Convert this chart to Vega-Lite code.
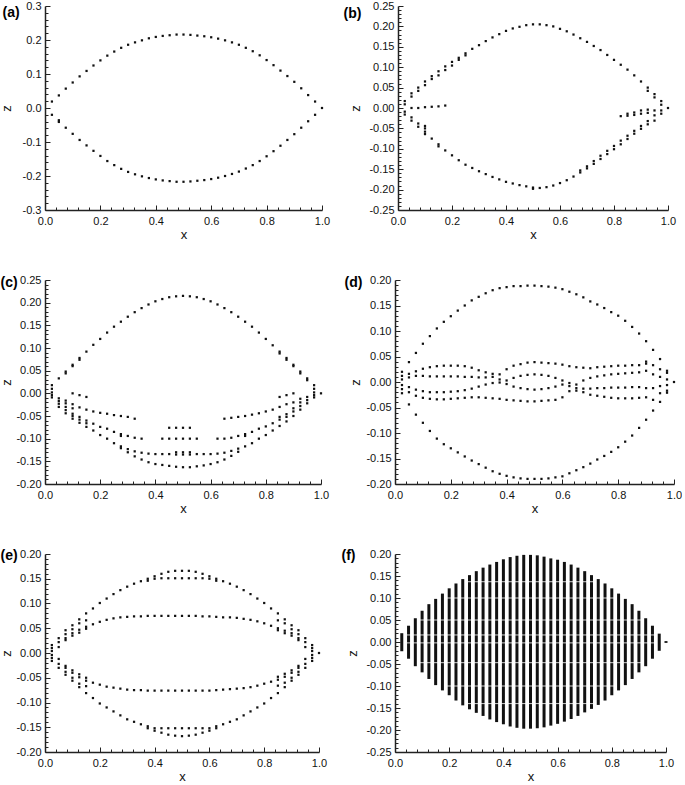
{
 "$schema": "https://vega.github.io/schema/vega-lite/v6.json",
 "padding": {"left": 0, "top": 0, "right": 0, "bottom": 0},
 "background": "white",
 "config": {
  "view": {"stroke": null},
  "font": "Liberation Sans",
  "axis": {"grid": false, "domainColor": "#222", "domainWidth": 1.5, "tickColor": "#222", "tickWidth": 1, "labelFont": "Liberation Sans", "labelFontSize": 11, "labelColor": "#111", "titleFont": "Liberation Sans", "titleFontSize": 13, "titleFontWeight": "normal", "titleColor": "#111"},
  "square": {"size": 5, "color": "#111", "opacity": 1}
 },
 "datasets": {
  "a": [
   {"x":0.025,"u":0.019,"l":-0.020},{"x":0.05,"u":0.037,"l":-0.036,"l2":-0.041},{"x":0.075,"u":0.057,"l":-0.058},{"x":0.1,"u":0.075,"l":-0.076},
   {"x":0.125,"u":0.093,"l":-0.094},{"x":0.15,"u":0.109,"l":-0.110},{"x":0.175,"u":0.125,"l":-0.126},{"x":0.2,"u":0.140,"l":-0.141},
   {"x":0.225,"u":0.154,"l":-0.156},{"x":0.25,"u":0.166,"l":-0.168},{"x":0.275,"u":0.177,"l":-0.179},{"x":0.3,"u":0.186,"l":-0.188},
   {"x":0.325,"u":0.193,"l":-0.195},{"x":0.35,"u":0.199,"l":-0.201},{"x":0.375,"u":0.205,"l":-0.206},{"x":0.4,"u":0.209,"l":-0.210},
   {"x":0.425,"u":0.212,"l":-0.213},{"x":0.45,"u":0.214,"l":-0.215},{"x":0.475,"u":0.216,"l":-0.217},{"x":0.5,"u":0.216,"l":-0.217},
   {"x":0.525,"u":0.215,"l":-0.216},{"x":0.55,"u":0.213,"l":-0.214},{"x":0.575,"u":0.211,"l":-0.212},{"x":0.6,"u":0.208,"l":-0.209},
   {"x":0.625,"u":0.204,"l":-0.205},{"x":0.65,"u":0.199,"l":-0.200},{"x":0.675,"u":0.193,"l":-0.194},{"x":0.7,"u":0.186,"l":-0.187},
   {"x":0.725,"u":0.177,"l":-0.178},{"x":0.75,"u":0.167,"l":-0.168},{"x":0.775,"u":0.155,"l":-0.156},{"x":0.8,"u":0.141,"l":-0.142},
   {"x":0.825,"u":0.126,"l":-0.127},{"x":0.85,"u":0.110,"l":-0.111},{"x":0.875,"u":0.094,"l":-0.094},{"x":0.9,"u":0.077,"l":-0.077},
   {"x":0.925,"u":0.058,"l":-0.058},{"x":0.95,"u":0.038,"l":-0.039},{"x":0.975,"u":0.019,"l":-0.020},{"x":1.0,"u":0.0}
  ],
  "b": [
   {"x":0.025,"u":0.017,"u2":0.009,"l":-0.009,"l2":-0.016},
   {"x":0.05,"u":0.036,"u2":0.028,"l":-0.023,"l2":-0.031,"m":0.0},
   {"x":0.075,"u":0.050,"u2":0.042,"l":-0.038,"l2":-0.046,"m":0.0},
   {"x":0.1,"u":0.065,"u2":0.056,"l":-0.044,"l2":-0.050,"l3":-0.058,"l4":-0.064,"m":0.002},
   {"x":0.125,"u":0.078,"u2":0.071,"l":-0.075,"m":0.003},
   {"x":0.15,"u":0.090,"u2":0.080,"l":-0.089,"l2":-0.094,"m":0.004},
   {"x":0.175,"u":0.102,"u2":0.093,"l":-0.104,"m":0.006},
   {"x":0.2,"u":0.113,"u2":0.104,"l":-0.116},
   {"x":0.225,"u":0.123,"u2":0.118,"l":-0.128},
   {"x":0.25,"u":0.134,"u2":0.129,"l":-0.139},
   {"x":0.275,"u":0.145,"l":-0.147},{"x":0.3,"u":0.154,"l":-0.155},{"x":0.325,"u":0.164,"l":-0.162},{"x":0.35,"u":0.173,"l":-0.169},
   {"x":0.375,"u":0.181,"l":-0.175},{"x":0.4,"u":0.189,"l":-0.181},{"x":0.425,"u":0.195,"l":-0.185},{"x":0.45,"u":0.199,"l":-0.189},
   {"x":0.475,"u":0.203,"l":-0.192},{"x":0.5,"u":0.205,"l":-0.195,"l2":-0.198},{"x":0.525,"u":0.205,"l":-0.196},{"x":0.55,"u":0.203,"l":-0.194},
   {"x":0.575,"u":0.200,"l":-0.190},{"x":0.6,"u":0.194,"l":-0.184},{"x":0.625,"u":0.188,"l":-0.177},{"x":0.65,"u":0.180,"l":-0.168},
   {"x":0.675,"u":0.171,"l":-0.158,"l2":-0.153},{"x":0.7,"u":0.162,"l":-0.148,"l2":-0.143},{"x":0.725,"u":0.152,"l":-0.137,"l2":-0.130},
   {"x":0.75,"u":0.142,"l":-0.125,"l2":-0.117},{"x":0.775,"u":0.130,"l":-0.113,"l2":-0.105},{"x":0.8,"u":0.118,"l":-0.101,"l2":-0.093},
   {"x":0.825,"u":0.106,"l":-0.089,"l2":-0.080,"m":-0.020},
   {"x":0.85,"u":0.094,"l":-0.076,"l2":-0.068,"m":-0.019,"m2":-0.014},
   {"x":0.875,"u":0.080,"l":-0.063,"l2":-0.056,"m":-0.017,"m2":-0.011},
   {"x":0.9,"u":0.065,"l":-0.051,"l2":-0.044,"m":-0.014,"m2":-0.006},
   {"x":0.925,"u":0.050,"u2":0.042,"l":-0.040,"l2":-0.032,"m":-0.012,"m2":-0.004},
   {"x":0.95,"u":0.034,"u2":0.026,"l":-0.031,"l2":-0.018,"m":-0.006},
   {"x":0.975,"u":0.017,"u2":0.008,"l":-0.014,"l2":-0.006},
   {"x":1.0,"u":0.0}
  ],
  "c": [
   {"x":0.025,"u":0.018,"u2":0.010,"p1":0.002,"p2":-0.004,"p3":-0.009},
   {"x":0.05,"u":0.033,"p1":-0.011,"p2":-0.017,"p3":-0.023,"p4":-0.030},
   {"x":0.075,"u":0.048,"u2":0.044,"p1":-0.016,"p2":-0.022,"p3":-0.030,"p4":-0.037,"p5":-0.044},
   {"x":0.1,"u":0.063,"u2":0.060,"p1":0.0,"p2":-0.024,"p3":-0.033,"p4":-0.045,"p5":-0.050,"p6":-0.056},
   {"x":0.125,"u":0.078,"u2":0.074,"p1":-0.004,"p2":-0.031,"p3":-0.052,"p4":-0.058,"p5":-0.065},
   {"x":0.15,"u":0.092,"p1":-0.008,"p2":-0.036,"p3":-0.060,"p4":-0.066,"p5":-0.074},
   {"x":0.175,"u":0.107,"p2":-0.040,"p3":-0.067,"p5":-0.082},
   {"x":0.2,"u":0.120,"p2":-0.043,"p3":-0.074,"p5":-0.092},
   {"x":0.225,"u":0.134,"p2":-0.045,"p3":-0.078,"p5":-0.100},
   {"x":0.25,"u":0.147,"p2":-0.048,"p3":-0.085,"p5":-0.110},
   {"x":0.275,"u":0.158,"p2":-0.050,"p3":-0.090,"p4":-0.094,"p5":-0.117,"p6":-0.121},
   {"x":0.3,"u":0.169,"p2":-0.052,"p3":-0.094,"p5":-0.123,"p6":-0.130},
   {"x":0.325,"u":0.179,"p2":-0.056,"p3":-0.098,"p5":-0.128,"p6":-0.139},
   {"x":0.35,"u":0.188,"p3":-0.100,"p5":-0.131,"p6":-0.146},
   {"x":0.375,"u":0.196,"p5":-0.133,"p6":-0.152},
   {"x":0.4,"u":0.203,"p5":-0.134,"p6":-0.156},
   {"x":0.425,"u":0.208,"p3":-0.100,"p5":-0.134,"p6":-0.158},
   {"x":0.45,"u":0.212,"p2":-0.076,"p3":-0.100,"p5":-0.134,"p6":-0.160},
   {"x":0.475,"u":0.214,"p2":-0.076,"p3":-0.100,"p4":-0.130,"p5":-0.135,"p6":-0.162},
   {"x":0.5,"u":0.215,"p2":-0.076,"p3":-0.100,"p4":-0.130,"p5":-0.135,"p6":-0.163},
   {"x":0.525,"u":0.214,"p2":-0.076,"p3":-0.100,"p4":-0.130,"p5":-0.135,"p6":-0.163},
   {"x":0.55,"u":0.212,"p3":-0.100,"p5":-0.134,"p6":-0.161},
   {"x":0.575,"u":0.208,"p5":-0.134,"p6":-0.159},
   {"x":0.6,"u":0.203,"p5":-0.134,"p6":-0.156},
   {"x":0.625,"u":0.196,"p3":-0.100,"p5":-0.133,"p6":-0.152},
   {"x":0.65,"u":0.188,"p2":-0.056,"p3":-0.100,"p5":-0.131,"p6":-0.146},
   {"x":0.675,"u":0.179,"p2":-0.054,"p3":-0.098,"p5":-0.127,"p6":-0.138},
   {"x":0.7,"u":0.169,"p2":-0.052,"p3":-0.094,"p5":-0.122,"p6":-0.129},
   {"x":0.725,"u":0.158,"p2":-0.050,"p3":-0.090,"p4":-0.094,"p5":-0.117},
   {"x":0.75,"u":0.147,"p2":-0.047,"p3":-0.085,"p5":-0.110},
   {"x":0.775,"u":0.134,"p2":-0.044,"p3":-0.078,"p5":-0.100},
   {"x":0.8,"u":0.120,"p2":-0.040,"p3":-0.073,"p5":-0.092},
   {"x":0.825,"u":0.106,"p2":-0.036,"p3":-0.066,"p5":-0.082},
   {"x":0.85,"u":0.092,"u2":0.088,"p1":-0.008,"p2":-0.030,"p3":-0.052,"p4":-0.058,"p5":-0.072},
   {"x":0.875,"u":0.078,"u2":0.074,"p1":-0.004,"p2":-0.024,"p3":-0.046,"p4":-0.052,"p5":-0.062},
   {"x":0.9,"u":0.063,"u2":0.060,"p1":0.0,"p2":-0.020,"p3":-0.033,"p4":-0.040,"p5":-0.050},
   {"x":0.925,"u":0.048,"u2":0.044,"p1":-0.012,"p2":-0.020,"p3":-0.028,"p4":-0.036},
   {"x":0.95,"u":0.033,"u2":0.029,"p1":-0.008,"p2":-0.015,"p3":-0.022},
   {"x":0.975,"u":0.018,"u2":0.010,"p1":0.002,"p2":-0.004,"p3":-0.009},
   {"x":1.0,"u":0.0}
  ],
  "d": [
   {"x":0.025,"U":0.020,"L":-0.022,"d1":0.012,"d2":0.005,"d3":-0.006,"d4":-0.014},
   {"x":0.05,"U":0.039,"L":-0.044,"d1":0.016,"d2":0.009,"d3":-0.010,"d4":-0.020},
   {"x":0.075,"U":0.057,"L":-0.064,"d1":0.021,"d2":0.012,"d3":-0.015,"d4":-0.027},
   {"x":0.1,"U":0.075,"L":-0.080,"d1":0.026,"d2":0.012,"d3":-0.018,"d4":-0.031},
   {"x":0.125,"U":0.090,"L":-0.096,"d1":0.029,"d2":0.011,"d3":-0.020,"d4":-0.033},
   {"x":0.15,"U":0.105,"L":-0.111,"d1":0.031,"d2":0.011,"d3":-0.020,"d4":-0.034},
   {"x":0.175,"U":0.118,"L":-0.122,"d1":0.032,"d2":0.011,"d3":-0.020,"d4":-0.034},
   {"x":0.2,"U":0.129,"L":-0.130,"d1":0.032,"d2":0.011,"d3":-0.019,"d4":-0.033},
   {"x":0.225,"U":0.140,"L":-0.138,"d1":0.032,"d2":0.011,"d3":-0.018,"d4":-0.032},
   {"x":0.25,"U":0.150,"L":-0.146,"d1":0.031,"d2":0.010,"d3":-0.016,"d4":-0.031},
   {"x":0.275,"U":0.160,"L":-0.154,"d1":0.028,"d2":0.010,"d3":-0.013,"d4":-0.030},
   {"x":0.3,"U":0.167,"L":-0.161,"d1":0.023,"d2":0.009,"d3":-0.009,"d4":-0.030},
   {"x":0.325,"U":0.174,"L":-0.168,"d1":0.019,"d2":0.009,"d3":-0.005,"d4":-0.031},
   {"x":0.35,"U":0.180,"L":-0.175,"d1":0.016,"d2":0.010,"d3":-0.002,"d4":-0.032},
   {"x":0.375,"U":0.184,"L":-0.180,"d1":0.015,"d2":0.005,"d3":-0.001,"d4":-0.033},
   {"x":0.4,"U":0.186,"L":-0.184,"d1":0.025,"d2":0.003,"d3":-0.004,"d4":-0.035},
   {"x":0.425,"U":0.188,"L":-0.187,"d1":0.032,"d2":0.008,"d3":-0.009,"d4":-0.036},
   {"x":0.45,"U":0.188,"L":-0.189,"d1":0.035,"d2":0.012,"d3":-0.012,"d4":-0.037},
   {"x":0.475,"U":0.189,"L":-0.190,"d1":0.038,"d2":0.014,"d3":-0.014,"d4":-0.038},
   {"x":0.5,"U":0.189,"L":-0.190,"d1":0.039,"d2":0.015,"d3":-0.015,"d4":-0.038},
   {"x":0.525,"U":0.188,"L":-0.190,"d1":0.038,"d2":0.014,"d3":-0.014,"d4":-0.037},
   {"x":0.55,"U":0.187,"L":-0.189,"d1":0.037,"d2":0.012,"d3":-0.012,"d4":-0.036},
   {"x":0.575,"U":0.185,"L":-0.187,"d1":0.036,"d2":0.008,"d3":-0.009,"d4":-0.035},
   {"x":0.6,"U":0.182,"L":-0.185,"d1":0.034,"d2":0.003,"d3":-0.005,"d4":-0.030},
   {"x":0.625,"U":0.177,"L":-0.179,"d1":0.031,"d2":-0.002,"d3":-0.008,"d4":-0.018},
   {"x":0.65,"U":0.172,"L":-0.173,"d1":0.029,"d2":-0.005,"d3":-0.012,"d4":-0.017},
   {"x":0.675,"U":0.166,"L":-0.167,"d1":0.028,"d2":0.003,"d3":-0.013,"d4":-0.020},
   {"x":0.7,"U":0.158,"L":-0.160,"d1":0.027,"d2":0.008,"d3":-0.013,"d4":-0.025},
   {"x":0.725,"U":0.152,"L":-0.152,"d1":0.029,"d2":0.011,"d3":-0.012,"d4":-0.027},
   {"x":0.75,"U":0.145,"L":-0.145,"d1":0.030,"d2":0.013,"d3":-0.012,"d4":-0.029},
   {"x":0.775,"U":0.137,"L":-0.137,"d1":0.031,"d2":0.015,"d3":-0.011,"d4":-0.031},
   {"x":0.8,"U":0.130,"L":-0.128,"d1":0.032,"d2":0.016,"d3":-0.011,"d4":-0.032},
   {"x":0.825,"U":0.120,"L":-0.117,"d1":0.032,"d2":0.017,"d3":-0.011,"d4":-0.032},
   {"x":0.85,"U":0.108,"L":-0.105,"d1":0.033,"d2":0.018,"d3":-0.010,"d4":-0.032},
   {"x":0.875,"U":0.095,"L":-0.090,"d1":0.033,"d2":0.019,"d3":-0.010,"d4":-0.031},
   {"x":0.9,"U":0.080,"L":-0.074,"d1":0.036,"d2":0.022,"d3":-0.012,"d4":-0.030,"d5":0.040},
   {"x":0.925,"U":0.063,"L":-0.056,"d1":0.033,"d2":0.015,"d3":-0.012,"d4":-0.035},
   {"x":0.95,"U":0.045,"L":-0.039,"d1":0.025,"d2":0.010,"d3":-0.008,"d4":-0.022},
   {"x":0.975,"U":0.022,"L":-0.021,"d1":0.018,"d2":0.005,"d3":-0.006,"d4":-0.017},
   {"x":1.0,"U":0.0}
  ],
  "e": [
   {"x":0.025,"a":0.016,"b":0.010,"c":0.004,"A":-0.004,"B":-0.010,"C":-0.016},
   {"x":0.05,"a":0.030,"b":0.022,"c":0.012,"A":-0.012,"B":-0.022,"C":-0.030},
   {"x":0.075,"a":0.046,"b":0.038,"c":0.030,"d":0.026,"A":-0.026,"B":-0.030,"C":-0.038,"D":-0.044},
   {"x":0.1,"a":0.056,"b":0.048,"c":0.040,"d":0.035,"A":-0.035,"B":-0.040,"C":-0.050,"D":-0.056},
   {"x":0.125,"a":0.068,"b":0.060,"c":0.047,"d":0.041,"A":-0.043,"B":-0.049,"C":-0.062,"D":-0.069},
   {"x":0.15,"a":0.080,"b":0.066,"c":0.053,"d":0.049,"A":-0.050,"B":-0.056,"C":-0.067,"D":-0.081},
   {"x":0.175,"a":0.090,"c":0.058,"A":-0.060,"D":-0.091},
   {"x":0.2,"a":0.101,"c":0.063,"A":-0.064,"D":-0.102},
   {"x":0.225,"a":0.110,"c":0.067,"A":-0.068,"D":-0.110},
   {"x":0.25,"a":0.119,"c":0.070,"A":-0.070,"D":-0.118},
   {"x":0.275,"a":0.127,"c":0.072,"A":-0.072,"D":-0.126},
   {"x":0.3,"a":0.134,"c":0.073,"A":-0.074,"D":-0.134},
   {"x":0.325,"a":0.140,"c":0.074,"A":-0.075,"D":-0.139},
   {"x":0.35,"a":0.145,"c":0.074,"A":-0.075,"D":-0.144},
   {"x":0.375,"a":0.150,"b":0.146,"c":0.075,"A":-0.076,"B":-0.148,"D":-0.152},
   {"x":0.4,"a":0.155,"b":0.150,"c":0.075,"A":-0.076,"B":-0.152,"D":-0.157},
   {"x":0.425,"a":0.160,"b":0.151,"c":0.075,"A":-0.076,"B":-0.152,"D":-0.161},
   {"x":0.45,"a":0.164,"b":0.151,"c":0.075,"A":-0.076,"B":-0.152,"D":-0.165},
   {"x":0.475,"a":0.166,"b":0.151,"c":0.075,"A":-0.076,"B":-0.152,"D":-0.167},
   {"x":0.5,"a":0.166,"b":0.151,"c":0.075,"A":-0.076,"B":-0.152,"D":-0.168},
   {"x":0.525,"a":0.166,"b":0.151,"c":0.075,"A":-0.076,"B":-0.152,"D":-0.167},
   {"x":0.55,"a":0.164,"b":0.151,"c":0.075,"A":-0.076,"B":-0.152,"D":-0.165},
   {"x":0.575,"a":0.160,"b":0.151,"c":0.074,"A":-0.076,"B":-0.152,"D":-0.161},
   {"x":0.6,"a":0.155,"b":0.150,"c":0.074,"A":-0.076,"B":-0.152,"D":-0.157},
   {"x":0.625,"a":0.150,"b":0.146,"c":0.073,"A":-0.075,"B":-0.148,"D":-0.152},
   {"x":0.65,"a":0.145,"c":0.072,"A":-0.074,"D":-0.144},
   {"x":0.675,"a":0.140,"c":0.072,"A":-0.073,"D":-0.139},
   {"x":0.7,"a":0.134,"c":0.071,"A":-0.072,"D":-0.134},
   {"x":0.725,"a":0.127,"c":0.069,"A":-0.071,"D":-0.126},
   {"x":0.75,"a":0.119,"c":0.067,"A":-0.069,"D":-0.118},
   {"x":0.775,"a":0.110,"c":0.064,"A":-0.066,"D":-0.110},
   {"x":0.8,"a":0.101,"c":0.060,"A":-0.062,"D":-0.102},
   {"x":0.825,"a":0.090,"c":0.055,"A":-0.058,"D":-0.091},
   {"x":0.85,"a":0.080,"b":0.066,"c":0.050,"d":0.046,"A":-0.048,"B":-0.054,"C":-0.066,"D":-0.081},
   {"x":0.875,"a":0.068,"b":0.060,"c":0.045,"d":0.040,"A":-0.042,"B":-0.048,"C":-0.060,"D":-0.069},
   {"x":0.9,"a":0.056,"b":0.048,"c":0.040,"d":0.035,"A":-0.035,"B":-0.040,"C":-0.050,"D":-0.056},
   {"x":0.925,"a":0.046,"b":0.038,"c":0.030,"d":0.026,"A":-0.026,"B":-0.030,"C":-0.038,"D":-0.044},
   {"x":0.95,"a":0.030,"b":0.022,"c":0.012,"A":-0.012,"B":-0.022,"C":-0.030},
   {"x":0.975,"a":0.016,"b":0.010,"c":0.004,"A":-0.004,"B":-0.010,"C":-0.016},
   {"x":1.0,"a":0.0}
  ],
  "f": [
   {"x":0.025,"lo":-0.021,"hi":0.020},{"x":0.05,"lo":-0.038,"hi":0.037},{"x":0.075,"lo":-0.055,"hi":0.054},{"x":0.1,"lo":-0.069,"hi":0.071},
   {"x":0.125,"lo":-0.084,"hi":0.086},{"x":0.15,"lo":-0.098,"hi":0.098},{"x":0.175,"lo":-0.110,"hi":0.110},{"x":0.2,"lo":-0.121,"hi":0.122},
   {"x":0.225,"lo":-0.133,"hi":0.133},{"x":0.25,"lo":-0.144,"hi":0.143},{"x":0.275,"lo":-0.153,"hi":0.152},{"x":0.3,"lo":-0.161,"hi":0.161},
   {"x":0.325,"lo":-0.168,"hi":0.169},{"x":0.35,"lo":-0.176,"hi":0.176},{"x":0.375,"lo":-0.182,"hi":0.182},{"x":0.4,"lo":-0.187,"hi":0.188},
   {"x":0.425,"lo":-0.192,"hi":0.193},{"x":0.45,"lo":-0.195,"hi":0.196},{"x":0.475,"lo":-0.197,"hi":0.198},{"x":0.5,"lo":-0.197,"hi":0.198},
   {"x":0.525,"lo":-0.196,"hi":0.197},{"x":0.55,"lo":-0.194,"hi":0.194},{"x":0.575,"lo":-0.190,"hi":0.190},{"x":0.6,"lo":-0.186,"hi":0.187},
   {"x":0.625,"lo":-0.181,"hi":0.182},{"x":0.65,"lo":-0.175,"hi":0.176},{"x":0.675,"lo":-0.168,"hi":0.169},{"x":0.7,"lo":-0.160,"hi":0.161},
   {"x":0.725,"lo":-0.152,"hi":0.152},{"x":0.75,"lo":-0.143,"hi":0.143},{"x":0.775,"lo":-0.133,"hi":0.133},{"x":0.8,"lo":-0.121,"hi":0.122},
   {"x":0.825,"lo":-0.110,"hi":0.110},{"x":0.85,"lo":-0.098,"hi":0.098},{"x":0.875,"lo":-0.084,"hi":0.086},{"x":0.9,"lo":-0.069,"hi":0.071},
   {"x":0.925,"lo":-0.055,"hi":0.054},{"x":0.95,"lo":-0.038,"hi":0.037},{"x":0.975,"lo":-0.020,"hi":0.019},{"x":1.0,"lo":-0.002,"hi":0.002}
  ],
  "fs": [
   {"z":0.137,"x1":0.26,"x2":0.74},{"z":0.100,"x1":0.19,"x2":0.81},{"z":0.050,"x1":0.09,"x2":0.91},{"z":0.016,"x1":0.04,"x2":0.96},
   {"z":-0.002,"x1":0.04,"x2":0.96},{"z":-0.047,"x1":0.09,"x2":0.91},{"z":-0.100,"x1":0.19,"x2":0.81},{"z":-0.140,"x1":0.26,"x2":0.74}
  ]
 },
 "spacing": 33,
 "vconcat": [
  {"spacing": 13, "hconcat": [
   {"width": 277, "height": 204, "data": {"name": "a"},
    "transform": [{"fold": ["u","l","l2"], "as": ["s","z"]}, {"filter": "isValid(datum.z)"}],
    "layer": [
     {"mark": {"type": "square"}, "encoding": {
       "x": {"field": "x", "type": "quantitative", "scale": {"domain": [0,1], "nice": false}, "axis": {"title": "x", "values": [0,0.2,0.4,0.6,0.8,1], "labelExpr": "format(datum.value, '.1f')", "tickSize": -5, "labelPadding": 10, "titlePadding": 2, "labelFlush": false, "labelOverlap": false}},
       "y": {"field": "z", "type": "quantitative", "scale": {"domain": [-0.3,0.3], "nice": false, "zero": false}, "axis": {"title": "z", "values": [-0.3,-0.2,-0.1,0,0.1,0.2,0.3], "labelExpr": "replace(format(datum.value, '.1f'), '\u2212', '-')", "tickSize": -5, "labelPadding": 9, "titlePadding": 2, "minExtent": 30, "maxExtent": 30, "labelOverlap": false}}}},
     {"mark": {"type": "square", "opacity": 0}, "encoding": {
       "x": {"field": "x", "type": "quantitative", "axis": {"orient": "bottom", "title": null, "labels": false, "domain": false, "tickSize": -3, "values": [0.04,0.08,0.12,0.16,0.24,0.28,0.32,0.36,0.44,0.48,0.52,0.56,0.64,0.68,0.72,0.76,0.84,0.88,0.92,0.96]}},
       "y": {"field": "z", "type": "quantitative", "axis": {"orient": "left", "title": "(a)", "titleAngle": 0, "titleX": -43, "titleY": 10, "titleAlign": "left", "titleBaseline": "alphabetic", "titleFontWeight": "bold", "titleFontSize": 14, "titleColor": "#000", "labels": false, "domain": false, "tickSize": -3, "values": [-0.28,-0.26,-0.24,-0.22,-0.18,-0.16,-0.14,-0.12,-0.08,-0.06,-0.04,-0.02,0.02,0.04,0.06,0.08,0.12,0.14,0.16,0.18,0.22,0.24,0.26,0.28]}}}}
    ],
    "resolve": {"axis": {"x": "independent", "y": "independent"}}
   },
   {"width": 270, "height": 204, "data": {"name": "b"},
    "transform": [{"fold": ["u","u2","l","l2","l3","l4","m","m2"], "as": ["s","z"]}, {"filter": "isValid(datum.z)"}],
    "layer": [
     {"mark": {"type": "square"}, "encoding": {
       "x": {"field": "x", "type": "quantitative", "scale": {"domain": [0,1], "nice": false}, "axis": {"title": "x", "values": [0,0.2,0.4,0.6,0.8,1], "labelExpr": "format(datum.value, '.1f')", "tickSize": -5, "labelPadding": 10, "titlePadding": 2, "labelFlush": false, "labelOverlap": false}},
       "y": {"field": "z", "type": "quantitative", "scale": {"domain": [-0.25,0.25], "nice": false, "zero": false}, "axis": {"title": "z", "values": [-0.25,-0.2,-0.15,-0.1,-0.05,0,0.05,0.1,0.15,0.2,0.25], "labelExpr": "replace(format(datum.value, '.2f'), '\u2212', '-')", "tickSize": -5, "labelPadding": 9, "titlePadding": 2, "minExtent": 34, "maxExtent": 34, "labelOverlap": false}}}},
     {"mark": {"type": "square", "opacity": 0}, "encoding": {
       "x": {"field": "x", "type": "quantitative", "axis": {"orient": "bottom", "title": null, "labels": false, "domain": false, "tickSize": -3, "values": [0.04,0.08,0.12,0.16,0.24,0.28,0.32,0.36,0.44,0.48,0.52,0.56,0.64,0.68,0.72,0.76,0.84,0.88,0.92,0.96]}},
       "y": {"field": "z", "type": "quantitative", "axis": {"orient": "left", "title": "(b)", "titleAngle": 0, "titleX": -55, "titleY": 11, "titleAlign": "left", "titleBaseline": "alphabetic", "titleFontWeight": "bold", "titleFontSize": 14, "titleColor": "#000", "labels": false, "domain": false, "tickSize": -3, "values": [-0.24,-0.23,-0.22,-0.21,-0.19,-0.18,-0.17,-0.16,-0.14,-0.13,-0.12,-0.11,-0.09,-0.08,-0.07,-0.06,-0.04,-0.03,-0.02,-0.01,0.01,0.02,0.03,0.04,0.06,0.07,0.08,0.09,0.11,0.12,0.13,0.14,0.16,0.17,0.18,0.19,0.21,0.22,0.23,0.24]}}}}
    ],
    "resolve": {"axis": {"x": "independent", "y": "independent"}}
   }
  ]},
  {"spacing": 15, "hconcat": [
   {"width": 276, "height": 204, "data": {"name": "c"},
    "transform": [{"fold": ["u","u2","p1","p2","p3","p4","p5","p6"], "as": ["s","z"]}, {"filter": "isValid(datum.z)"}],
    "layer": [
     {"mark": {"type": "square"}, "encoding": {
       "x": {"field": "x", "type": "quantitative", "scale": {"domain": [0,1], "nice": false}, "axis": {"title": "x", "values": [0,0.2,0.4,0.6,0.8,1], "labelExpr": "format(datum.value, '.1f')", "tickSize": -5, "labelPadding": 10, "titlePadding": 2, "labelFlush": false, "labelOverlap": false}},
       "y": {"field": "z", "type": "quantitative", "scale": {"domain": [-0.2,0.25], "nice": false, "zero": false}, "axis": {"title": "z", "values": [-0.2,-0.15,-0.1,-0.05,0,0.05,0.1,0.15,0.2,0.25], "labelExpr": "replace(format(datum.value, '.2f'), '\u2212', '-')", "tickSize": -5, "labelPadding": 9, "titlePadding": 2, "minExtent": 30, "maxExtent": 30, "labelOverlap": false}}}},
     {"mark": {"type": "square", "opacity": 0}, "encoding": {
       "x": {"field": "x", "type": "quantitative", "axis": {"orient": "bottom", "title": null, "labels": false, "domain": false, "tickSize": -3, "values": [0.04,0.08,0.12,0.16,0.24,0.28,0.32,0.36,0.44,0.48,0.52,0.56,0.64,0.68,0.72,0.76,0.84,0.88,0.92,0.96]}},
       "y": {"field": "z", "type": "quantitative", "axis": {"orient": "left", "title": "(c)", "titleAngle": 0, "titleX": -45, "titleY": 6, "titleAlign": "left", "titleBaseline": "alphabetic", "titleFontWeight": "bold", "titleFontSize": 14, "titleColor": "#000", "labels": false, "domain": false, "tickSize": -3, "values": [-0.19,-0.18,-0.17,-0.16,-0.14,-0.13,-0.12,-0.11,-0.09,-0.08,-0.07,-0.06,-0.04,-0.03,-0.02,-0.01,0.01,0.02,0.03,0.04,0.06,0.07,0.08,0.09,0.11,0.12,0.13,0.14,0.16,0.17,0.18,0.19,0.21,0.22,0.23,0.24]}}}}
    ],
    "resolve": {"axis": {"x": "independent", "y": "independent"}}
   },
   {"width": 279, "height": 204, "data": {"name": "d"},
    "transform": [{"fold": ["U","L","d1","d2","d3","d4","d5"], "as": ["s","z"]}, {"filter": "isValid(datum.z)"}],
    "layer": [
     {"mark": {"type": "square"}, "encoding": {
       "x": {"field": "x", "type": "quantitative", "scale": {"domain": [0,1], "nice": false}, "axis": {"title": "x", "values": [0,0.2,0.4,0.6,0.8,1], "labelExpr": "format(datum.value, '.1f')", "tickSize": -5, "labelPadding": 10, "titlePadding": 2, "labelFlush": false, "labelOverlap": false}},
       "y": {"field": "z", "type": "quantitative", "scale": {"domain": [-0.2,0.2], "nice": false, "zero": false}, "axis": {"title": "z", "values": [-0.2,-0.15,-0.1,-0.05,0,0.05,0.1,0.15,0.2], "labelExpr": "replace(format(datum.value, '.2f'), '\u2212', '-')", "tickSize": -5, "labelPadding": 9, "titlePadding": 2, "minExtent": 31, "maxExtent": 31, "labelOverlap": false}}}},
     {"mark": {"type": "square", "opacity": 0}, "encoding": {
       "x": {"field": "x", "type": "quantitative", "axis": {"orient": "bottom", "title": null, "labels": false, "domain": false, "tickSize": -3, "values": [0.04,0.08,0.12,0.16,0.24,0.28,0.32,0.36,0.44,0.48,0.52,0.56,0.64,0.68,0.72,0.76,0.84,0.88,0.92,0.96]}},
       "y": {"field": "z", "type": "quantitative", "axis": {"orient": "left", "title": "(d)", "titleAngle": 0, "titleX": -51, "titleY": 6, "titleAlign": "left", "titleBaseline": "alphabetic", "titleFontWeight": "bold", "titleFontSize": 14, "titleColor": "#000", "labels": false, "domain": false, "tickSize": -3, "values": [-0.19,-0.18,-0.17,-0.16,-0.14,-0.13,-0.12,-0.11,-0.09,-0.08,-0.07,-0.06,-0.04,-0.03,-0.02,-0.01,0.01,0.02,0.03,0.04,0.06,0.07,0.08,0.09,0.11,0.12,0.13,0.14,0.16,0.17,0.18,0.19]}}}}
    ],
    "resolve": {"axis": {"x": "independent", "y": "independent"}}
   }
  ]},
  {"spacing": 14, "hconcat": [
   {"width": 274, "height": 198, "data": {"name": "e"},
    "transform": [{"fold": ["a","b","c","d","A","B","C","D"], "as": ["s","z"]}, {"filter": "isValid(datum.z)"}],
    "layer": [
     {"mark": {"type": "square"}, "encoding": {
       "x": {"field": "x", "type": "quantitative", "scale": {"domain": [0,1], "nice": false}, "axis": {"title": "x", "values": [0,0.2,0.4,0.6,0.8,1], "labelExpr": "format(datum.value, '.1f')", "tickSize": -5, "labelPadding": 10, "titlePadding": 2, "labelFlush": false, "labelOverlap": false}},
       "y": {"field": "z", "type": "quantitative", "scale": {"domain": [-0.2,0.2], "nice": false, "zero": false}, "axis": {"title": "z", "values": [-0.2,-0.15,-0.1,-0.05,0,0.05,0.1,0.15,0.2], "labelExpr": "replace(format(datum.value, '.2f'), '\u2212', '-')", "tickSize": -5, "labelPadding": 9, "titlePadding": 2, "minExtent": 30, "maxExtent": 30, "labelOverlap": false}}}},
     {"mark": {"type": "square", "opacity": 0}, "encoding": {
       "x": {"field": "x", "type": "quantitative", "axis": {"orient": "bottom", "title": null, "labels": false, "domain": false, "tickSize": -3, "values": [0.04,0.08,0.12,0.16,0.24,0.28,0.32,0.36,0.44,0.48,0.52,0.56,0.64,0.68,0.72,0.76,0.84,0.88,0.92,0.96]}},
       "y": {"field": "z", "type": "quantitative", "axis": {"orient": "left", "title": "(e)", "titleAngle": 0, "titleX": -45, "titleY": 5, "titleAlign": "left", "titleBaseline": "alphabetic", "titleFontWeight": "bold", "titleFontSize": 14, "titleColor": "#000", "labels": false, "domain": false, "tickSize": -3, "values": [-0.19,-0.18,-0.17,-0.16,-0.14,-0.13,-0.12,-0.11,-0.09,-0.08,-0.07,-0.06,-0.04,-0.03,-0.02,-0.01,0.01,0.02,0.03,0.04,0.06,0.07,0.08,0.09,0.11,0.12,0.13,0.14,0.16,0.17,0.18,0.19]}}}}
    ],
    "resolve": {"axis": {"x": "independent", "y": "independent"}}
   },
   {"width": 271, "height": 198,
    "layer": [
     {"data": {"name": "f"}, "mark": {"type": "rule", "strokeWidth": 3, "color": "#111"}, "encoding": {
       "x": {"field": "x", "type": "quantitative", "scale": {"domain": [0,1], "nice": false}, "axis": {"title": "x", "values": [0,0.2,0.4,0.6,0.8,1], "labelExpr": "format(datum.value, '.1f')", "tickSize": -5, "labelPadding": 10, "titlePadding": 2, "labelFlush": false, "labelOverlap": false}},
       "y": {"field": "lo", "type": "quantitative", "scale": {"domain": [-0.25,0.2], "nice": false, "zero": false}, "axis": {"title": "z", "values": [-0.25,-0.2,-0.15,-0.1,-0.05,0,0.05,0.1,0.15,0.2], "labelExpr": "replace(format(datum.value, '.2f'), '\u2212', '-')", "tickSize": -5, "labelPadding": 9, "titlePadding": 2, "minExtent": 34, "maxExtent": 34, "labelOverlap": false}},
       "y2": {"field": "hi"}}},
     {"data": {"name": "fs"}, "mark": {"type": "rule", "strokeWidth": 1, "color": "white", "opacity": 0.8}, "encoding": {
       "x": {"field": "x1", "type": "quantitative", "axis": null},
       "x2": {"field": "x2"},
       "y": {"field": "z", "type": "quantitative", "axis": null}}},
     {"data": {"name": "f"}, "mark": {"type": "square", "opacity": 0}, "encoding": {
       "x": {"field": "x", "type": "quantitative", "axis": {"orient": "bottom", "title": null, "labels": false, "domain": false, "tickSize": -3, "values": [0.04,0.08,0.12,0.16,0.24,0.28,0.32,0.36,0.44,0.48,0.52,0.56,0.64,0.68,0.72,0.76,0.84,0.88,0.92,0.96]}},
       "y": {"field": "lo", "type": "quantitative", "axis": {"orient": "left", "title": "(f)", "titleAngle": 0, "titleX": -54, "titleY": 5, "titleAlign": "left", "titleBaseline": "alphabetic", "titleFontWeight": "bold", "titleFontSize": 14, "titleColor": "#000", "labels": false, "domain": false, "tickSize": -3, "values": [-0.24,-0.23,-0.22,-0.21,-0.19,-0.18,-0.17,-0.16,-0.14,-0.13,-0.12,-0.11,-0.09,-0.08,-0.07,-0.06,-0.04,-0.03,-0.02,-0.01,0.01,0.02,0.03,0.04,0.06,0.07,0.08,0.09,0.11,0.12,0.13,0.14,0.16,0.17,0.18,0.19]}}}}
    ],
    "resolve": {"axis": {"x": "independent", "y": "independent"}}
   }
  ]}
 ]
}
